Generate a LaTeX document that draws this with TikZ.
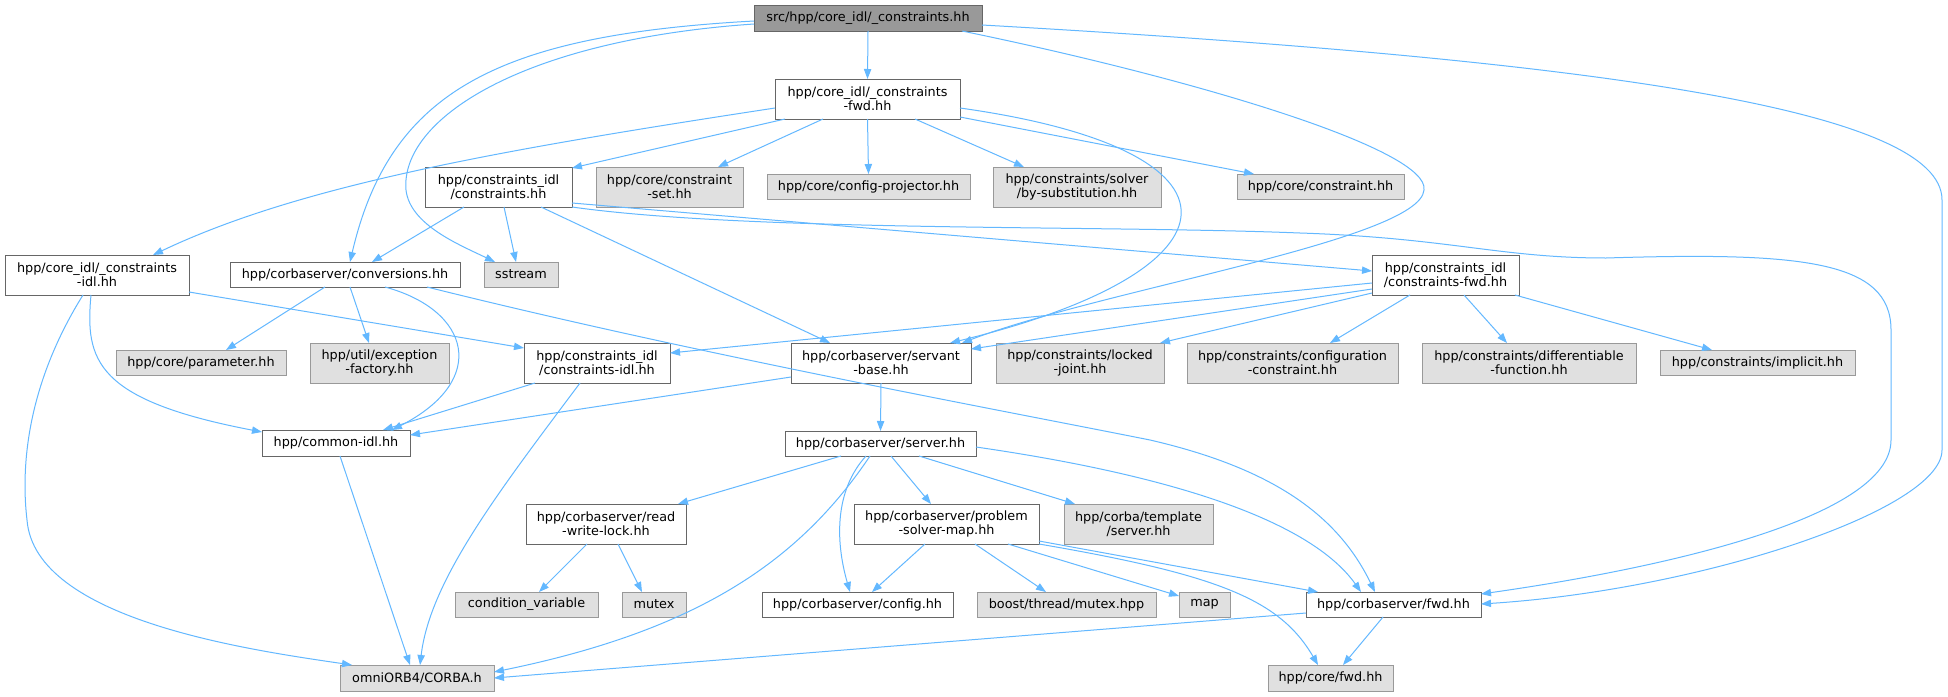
\documentclass[tikz,border=0pt]{standalone}
\usepackage{fontspec}
\setmainfont{DejaVu Sans}
\usetikzlibrary{arrows.meta,calc}
\definecolor{edgec}{HTML}{63B8FF}
\definecolor{wbord}{HTML}{666666}
\definecolor{gbord}{HTML}{999999}
\definecolor{gfill}{HTML}{E0E0E0}
\definecolor{topfill}{HTML}{999999}
\newcommand\dnode[7]{\node[#6, minimum width={(#4-#2)*0.75pt}, minimum height={(#5-#3)*0.75pt}] (#1) at ({(#2+#4)/2},{(#3+#5)/2}) {#7};}
\begin{document}
\begin{tikzpicture}[x=0.75pt,y=-0.75pt,
  base/.style={rectangle, inner sep=0pt, outer sep=0pt, line width=0.75pt, align=center, font=\fontsize{9.6}{10.5}\selectfont},
  wbox/.style={base, draw=wbord, fill=white},
  gbox/.style={base, draw=gbord, fill=gfill},
  tbox/.style={base, draw=wbord, fill=topfill},
  lnk/.style={draw=edgec, line width=0.75pt, -{Triangle[length=7.5pt,width=5.5pt]}}]
\fill[white] (0,0) rectangle (1948,696);
\useasboundingbox (0,0) rectangle (1948,696);
% nodes: name, left, top, right, bottom
\dnode{N1}{754}{5}{982}{31}{tbox}{src/hpp/core\_idl/\_constraints.hh}
\dnode{N2}{775}{79}{960}{119}{wbox}{hpp/core\_idl/\_constraints\\-fwd.hh}
\dnode{N3}{425}{167}{572}{207}{wbox}{hpp/constraints\_idl\\/constraints.hh}
\dnode{N4}{596}{167}{743}{207}{gbox}{hpp/core/constraint\\-set.hh}
\dnode{N5}{767}{174}{970}{199}{gbox}{hpp/core/config-projector.hh}
\dnode{N6}{993}{167}{1161}{207}{gbox}{hpp/constraints/solver\\/by-substitution.hh}
\dnode{N7}{1237}{174}{1404}{199}{gbox}{hpp/core/constraint.hh}
\dnode{N8}{5}{255}{189}{295}{wbox}{hpp/core\_idl/\_constraints\\-idl.hh}
\dnode{N9}{230}{262}{460}{287}{wbox}{hpp/corbaserver/conversions.hh}
\dnode{N10}{484}{262}{558}{287}{gbox}{sstream}
\dnode{N11}{1372}{255}{1519}{295}{wbox}{hpp/constraints\_idl\\/constraints-fwd.hh}
\dnode{N12}{116}{350}{286}{375}{gbox}{hpp/core/parameter.hh}
\dnode{N13}{310}{343}{449}{383}{gbox}{hpp/util/exception\\-factory.hh}
\dnode{N14}{524}{343}{670}{383}{wbox}{hpp/constraints\_idl\\/constraints-idl.hh}
\dnode{N15}{791}{343}{971}{383}{wbox}{hpp/corbaserver/servant\\-base.hh}
\dnode{N16}{996}{343}{1164}{383}{gbox}{hpp/constraints/locked\\-joint.hh}
\dnode{N17}{1187}{343}{1398}{383}{gbox}{hpp/constraints/configuration\\-constraint.hh}
\dnode{N18}{1422}{343}{1636}{383}{gbox}{hpp/constraints/differentiable\\-function.hh}
\dnode{N19}{1660}{350}{1855}{375}{gbox}{hpp/constraints/implicit.hh}
\dnode{N20}{262}{430}{410}{456}{wbox}{hpp/common-idl.hh}
\dnode{N21}{785}{431}{976}{456}{wbox}{hpp/corbaserver/server.hh}
\dnode{N22}{526}{504}{686}{544}{wbox}{hpp/corbaserver/read\\-write-lock.hh}
\dnode{N23}{854}{504}{1039}{544}{wbox}{hpp/corbaserver/problem\\-solver-map.hh}
\dnode{N24}{1064}{504}{1213}{544}{gbox}{hpp/corba/template\\/server.hh}
\dnode{N25}{455}{592}{598}{617}{gbox}{condition\_variable}
\dnode{N26}{622}{592}{686}{617}{gbox}{mutex}
\dnode{N27}{762}{592}{953}{617}{wbox}{hpp/corbaserver/config.hh}
\dnode{N28}{977}{592}{1156}{617}{gbox}{boost/thread/mutex.hpp}
\dnode{N29}{1179}{592}{1230}{617}{gbox}{map}
\dnode{N30}{1306}{592}{1481}{617}{wbox}{hpp/corbaserver/fwd.hh}
\dnode{N31}{340}{665}{494}{691}{gbox}{omniORB4/CORBA.h}
\dnode{N32}{1268}{665}{1393}{691}{gbox}{hpp/core/fwd.hh}
% edges
\draw[lnk] (N1.south) -- (N2.north);
\draw[lnk] ($(N1.north west)+(0,16)$) .. controls (500,35) and (390,90) .. ($(N9.north west)+(120,0)$);
\draw[lnk] ($(N1.north west)+(0,19)$) .. controls (520,40) and (400,120) .. (406,190) .. controls (410,225) and (460,245) .. ($(N10.north west)+(11,0)$);
\draw[lnk] ($(N1.north west)+(208,26)$) .. controls (1200,80) and (1430,150) .. (1424,190) .. controls (1420,240) and (1100,290) .. ($(N15.north west)+(171,0)$);
\draw[lnk] ($(N1.north west)+(228,20)$) .. controls (1600,60) and (1942,110) .. (1942,200) -- (1942,450) .. controls (1942,510) and (1700,590) .. ($(N30.north west)+(175,12)$);
\draw[lnk] ($(N2.north west)+(0,29)$) .. controls (500,150) and (300,185) .. ($(N8.north west)+(148,0)$);
\draw[lnk] ($(N2.north west)+(10,40)$) -- ($(N3.north west)+(147,1)$);
\draw[lnk] ($(N2.north west)+(48,40)$) -- ($(N4.north west)+(122,0)$);
\draw[lnk] (N2.south) -- (N5.north);
\draw[lnk] ($(N2.north west)+(140,40)$) -- ($(N6.north west)+(31,0)$);
\draw[lnk] ($(N2.north west)+(185,38)$) -- ($(N7.north west)+(17,0)$);
\draw[lnk] ($(N2.north west)+(185,29)$) .. controls (1260,150) and (1250,270) .. ($(N15.north west)+(159,0)$);
\draw[lnk] ($(N3.north west)+(39,40)$) -- ($(N9.north west)+(142,0)$);
\draw[lnk] ($(N3.north west)+(79,40)$) -- ($(N10.north west)+(32,0)$);
\draw[lnk] ($(N3.north west)+(116,40)$) -- ($(N15.north west)+(39,0)$);
\draw[lnk] ($(N3.north west)+(147,36)$) -- ($(N11.north west)+(0,16)$);
\draw[lnk] ($(N3.north west)+(147,40)$) .. controls (750,232) and (1100,225) .. (1300,233) .. controls (1450,238) and (1500,258) .. (1606,258) .. controls (1800,252) and (1891,260) .. (1891,330) -- (1891,440) .. controls (1891,520) and (1650,570) .. ($(N30.north west)+(175,2)$);
\draw[lnk] ($(N8.north west)+(184,37)$) -- ($(N14.north west)+(0,5)$);
\draw[lnk] ($(N8.north west)+(86,40)$) .. controls (85,360) and (95,400) .. ($(N20.north west)+(0,2)$);
\draw[lnk] ($(N8.north west)+(78,40)$) .. controls (30,380) and (20,460) .. (27,520) .. controls (35,620) and (250,650) .. ($(N31.north west)+(12,0)$);
\draw[lnk] ($(N9.north west)+(95,25)$) -- ($(N12.north west)+(110,0)$);
\draw[lnk] ($(N9.north west)+(120,25)$) -- ($(N13.north west)+(59,0)$);
\draw[lnk] ($(N9.north west)+(155,25)$) .. controls (470,310) and (490,380) .. ($(N20.north west)+(130,0)$);
\draw[lnk] ($(N9.north west)+(197,25)$) .. controls (700,355) and (1000,410) .. (1150,440) .. controls (1280,470) and (1340,520) .. ($(N30.north west)+(69,0)$);
\draw[lnk] ($(N11.north west)+(0,28)$) -- ($(N14.north west)+(146,10)$);
\draw[lnk] ($(N11.north west)+(0,34)$) -- ($(N15.north west)+(180,6)$);
\draw[lnk] ($(N11.north west)+(0,38)$) -- ($(N16.north west)+(164,0)$);
\draw[lnk] ($(N11.north west)+(38,40)$) -- ($(N17.north west)+(143,0)$);
\draw[lnk] ($(N11.north west)+(92,40)$) -- ($(N18.north west)+(85,0)$);
\draw[lnk] ($(N11.north west)+(143,40)$) -- ($(N19.north west)+(52,0)$);
\draw[lnk] ($(N14.north west)+(11,40)$) -- ($(N20.north west)+(121,0)$);
\draw[lnk] ($(N14.north west)+(56,40)$) .. controls (500,490) and (430,580) .. ($(N31.north west)+(80,0)$);
\draw[lnk] ($(N15.north west)+(0,34)$) -- ($(N20.north west)+(148,5)$);
\draw[lnk] (N15.south) -- (N21.north);
\draw[lnk] ($(N20.north west)+(78,26)$) -- ($(N31.north west)+(70,0)$);
\draw[lnk] ($(N21.north west)+(56,25)$) -- ($(N22.north west)+(152,0)$);
\draw[lnk] ($(N21.north west)+(85,25)$) .. controls (800,560) and (700,630) .. ($(N31.north west)+(154,7)$);
\draw[lnk] ($(N21.north west)+(81,25)$) .. controls (835,490) and (835,540) .. ($(N27.north west)+(88,0)$);
\draw[lnk] ($(N21.north west)+(106,25)$) -- ($(N23.north west)+(77,0)$);
\draw[lnk] ($(N21.north west)+(134,25)$) -- ($(N24.north west)+(11,0)$);
\draw[lnk] ($(N21.north west)+(191,16)$) .. controls (1170,475) and (1310,520) .. ($(N30.north west)+(55,0)$);
\draw[lnk] ($(N22.north west)+(61,40)$) -- ($(N25.north west)+(84,0)$);
\draw[lnk] ($(N22.north west)+(92,40)$) -- ($(N26.north west)+(20,0)$);
\draw[lnk] ($(N23.north west)+(71,40)$) -- ($(N27.north west)+(110,0)$);
\draw[lnk] ($(N23.north west)+(121,40)$) -- ($(N28.north west)+(69,0)$);
\draw[lnk] ($(N23.north west)+(154,40)$) -- ($(N29.north west)+(0,4)$);
\draw[lnk] ($(N23.north west)+(185,37)$) -- ($(N30.north west)+(12,0)$);
\draw[lnk] ($(N23.north west)+(185,40)$) .. controls (1220,575) and (1280,600) .. ($(N32.north west)+(50,0)$);
\draw[lnk] ($(N30.north west)+(0,21)$) -- ($(N31.north west)+(154,13)$);
\draw[lnk] ($(N30.north west)+(77,25)$) -- ($(N32.north west)+(75,0)$);
\end{tikzpicture}
\end{document}
